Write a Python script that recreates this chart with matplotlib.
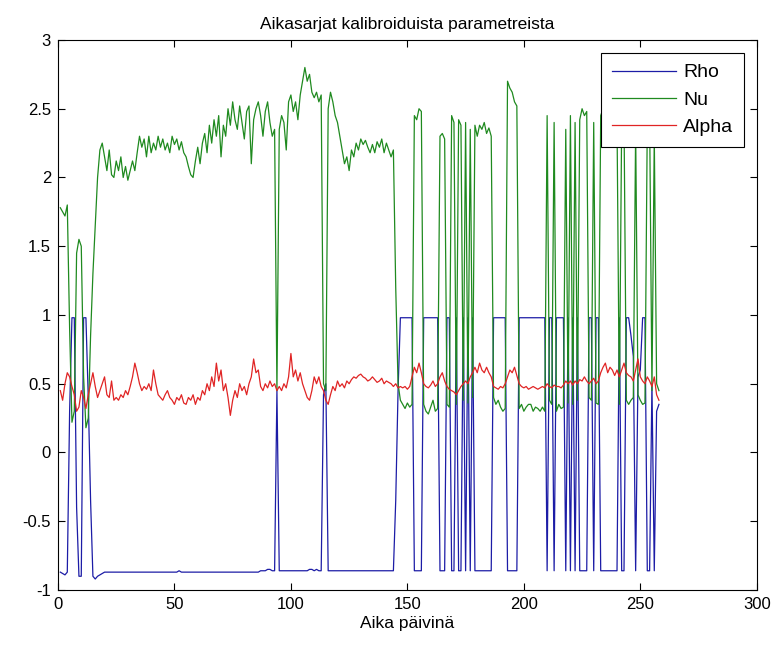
import numpy as np
import matplotlib
matplotlib.use("Agg")
import matplotlib.pyplot as plt

plt.rcParams['font.family'] = ['Liberation Sans', 'DejaVu Sans']

# Calibrated parameter series, one value per day (days 1..258)
rho = [
    -0.87, -0.88, -0.89, -0.87, 0.30, 0.98, 0.98, -0.40, -0.90, -0.90,
    0.98, 0.98, 0.40, -0.35, -0.90, -0.92, -0.90, -0.89, -0.88, -0.87,
    -0.87, -0.87, -0.87, -0.87, -0.87, -0.87, -0.87, -0.87, -0.87, -0.87,
    -0.87, -0.87, -0.87, -0.87, -0.87, -0.87, -0.87, -0.87, -0.87, -0.87,
    -0.87, -0.87, -0.87, -0.87, -0.87, -0.87, -0.87, -0.87, -0.87, -0.87,
    -0.87, -0.86, -0.87, -0.87, -0.87, -0.87, -0.87, -0.87, -0.87, -0.87,
    -0.87, -0.87, -0.87, -0.87, -0.87, -0.87, -0.87, -0.87, -0.87, -0.87,
    -0.87, -0.87, -0.87, -0.87, -0.87, -0.87, -0.87, -0.87, -0.87, -0.87,
    -0.87, -0.87, -0.87, -0.87, -0.87, -0.87, -0.86, -0.86, -0.86, -0.85,
    -0.85, -0.86, -0.86, 0.45, -0.86, -0.86, -0.86, -0.86, -0.86, -0.86,
    -0.86, -0.86, -0.86, -0.86, -0.86, -0.86, -0.86, -0.85, -0.85, -0.86,
    -0.85, -0.86, -0.86, 0.42, 0.50, -0.86, -0.86, -0.86, -0.86, -0.86,
    -0.86, -0.86, -0.86, -0.86, -0.86, -0.86, -0.86, -0.86, -0.86, -0.86,
    -0.86, -0.86, -0.86, -0.86, -0.86, -0.86, -0.86, -0.86, -0.86, -0.86,
    -0.86, -0.86, -0.86, -0.86, -0.35, 0.45, 0.98, 0.98, 0.98, 0.98,
    0.98, 0.98, -0.86, -0.86, -0.86, -0.86, 0.98, 0.98, 0.98, 0.98,
    0.98, 0.98, 0.98, -0.86, -0.86, -0.86, 0.98, 0.98, -0.86, -0.86,
    0.98, -0.86, -0.86, 0.98, -0.86, 0.98, -0.86, 0.98, -0.86, -0.86,
    -0.86, -0.86, -0.86, -0.86, -0.86, -0.86, 0.98, 0.98, 0.98, 0.98,
    0.98, 0.98, -0.86, -0.86, -0.86, -0.86, -0.86, 0.98, 0.98, 0.98,
    0.98, 0.98, 0.98, 0.98, 0.98, 0.98, 0.98, 0.98, 0.98, -0.86,
    0.98, 0.98, -0.86, 0.98, 0.98, 0.98, 0.98, -0.86, 0.98, -0.86,
    0.98, -0.86, 0.98, -0.86, -0.86, -0.86, -0.86, 0.98, 0.98, -0.86,
    0.98, 0.98, -0.86, -0.86, -0.86, -0.86, -0.86, -0.86, -0.86, -0.86,
    0.98, -0.86, -0.86, 0.98, 0.98, 0.85, 0.70, -0.86, 0.55, 0.60,
    0.98, 0.98, -0.86, -0.86, 0.50, -0.86, 0.30, 0.35,
]

nu = [
    1.78, 1.75, 1.72, 1.80, 0.90, 0.22, 0.30, 1.45, 1.55, 1.50,
    0.55, 0.18, 0.25, 0.85, 1.30, 1.65, 2.00, 2.20, 2.25, 2.15,
    2.05, 2.20, 2.02, 2.00, 2.12, 2.05, 2.15, 2.00, 2.08, 1.98,
    2.05, 2.12, 2.05, 2.18, 2.30, 2.22, 2.28, 2.15, 2.30, 2.18,
    2.25, 2.20, 2.30, 2.22, 2.28, 2.20, 2.25, 2.18, 2.30, 2.24,
    2.28, 2.20, 2.26, 2.18, 2.15, 2.08, 2.02, 2.00, 2.12, 2.22,
    2.10, 2.25, 2.32, 2.18, 2.38, 2.25, 2.42, 2.30, 2.45, 2.15,
    2.38, 2.30, 2.50, 2.38, 2.55, 2.42, 2.35, 2.52, 2.40, 2.28,
    2.48, 2.52, 2.10, 2.42, 2.50, 2.55, 2.45, 2.30, 2.48, 2.55,
    2.40, 2.30, 2.35, 0.45, 2.35, 2.45, 2.40, 2.20, 2.55, 2.60,
    2.48, 2.55, 2.42, 2.60, 2.70, 2.80, 2.70, 2.75, 2.62, 2.58,
    2.62, 2.55, 2.60, 0.50, 0.45, 2.50, 2.62, 2.55, 2.45, 2.40,
    2.30, 2.20, 2.10, 2.15, 2.05, 2.20, 2.15, 2.25, 2.20, 2.28,
    2.24, 2.27, 2.22, 2.18, 2.24, 2.18, 2.26, 2.22, 2.28, 2.18,
    2.25, 2.20, 2.15, 2.20, 1.20, 0.50, 0.38, 0.35, 0.32, 0.36,
    0.33, 0.35, 2.45, 2.42, 2.50, 2.48, 0.35, 0.30, 0.28, 0.33,
    0.38, 0.30, 0.32, 2.30, 2.32, 2.28, 0.35, 0.33, 2.45, 2.40,
    0.35, 2.42, 2.38, 0.38, 2.40, 0.36, 2.35, 0.40, 2.38, 2.30,
    2.38, 2.35, 2.40, 2.32, 2.36, 2.30, 0.40, 0.35, 0.38, 0.33,
    0.30, 0.32, 2.70, 2.65, 2.62, 2.55, 2.52, 0.32, 0.35, 0.30,
    0.33, 0.35, 0.35, 0.30, 0.33, 0.32, 0.30, 0.33, 0.30, 2.45,
    0.38, 0.35, 2.40, 0.30, 0.35, 0.32, 0.33, 2.35, 0.36, 2.45,
    0.35, 2.40, 0.38, 2.42, 2.50, 2.45, 2.48, 0.40, 0.38, 2.40,
    0.36, 0.35, 2.45, 2.50, 2.55, 2.48, 2.52, 2.45, 2.50, 2.42,
    0.35, 2.40, 2.45, 0.38, 0.35, 0.38, 0.40, 2.35, 0.42, 0.38,
    0.35, 0.36, 2.40, 2.45, 0.45, 2.30, 0.50, 0.45,
]

alpha = [
    0.45, 0.38, 0.50, 0.58, 0.55, 0.48, 0.42, 0.30, 0.33, 0.45,
    0.40, 0.32, 0.42, 0.50, 0.58, 0.48, 0.40, 0.45, 0.50, 0.55,
    0.42, 0.40, 0.52, 0.38, 0.40, 0.38, 0.42, 0.40, 0.45, 0.42,
    0.48, 0.55, 0.65, 0.58, 0.50, 0.45, 0.48, 0.46, 0.50, 0.45,
    0.60, 0.50, 0.42, 0.40, 0.38, 0.42, 0.45, 0.40, 0.38, 0.35,
    0.40, 0.38, 0.42, 0.36, 0.35, 0.40, 0.38, 0.42, 0.35, 0.40,
    0.38, 0.45, 0.42, 0.50, 0.45, 0.55, 0.48, 0.65, 0.52, 0.60,
    0.45, 0.50, 0.40, 0.27, 0.38, 0.45, 0.40, 0.50, 0.45, 0.48,
    0.42, 0.50, 0.55, 0.68, 0.58, 0.60, 0.48, 0.45, 0.50, 0.47,
    0.52, 0.48, 0.50, 0.45, 0.48, 0.45, 0.50, 0.47, 0.55, 0.72,
    0.55, 0.60, 0.52, 0.58, 0.50, 0.45, 0.40, 0.38, 0.45, 0.55,
    0.50, 0.55, 0.48, 0.45, 0.38, 0.35, 0.42, 0.48, 0.45, 0.52,
    0.48, 0.50, 0.47, 0.52, 0.50, 0.53, 0.55, 0.54, 0.56, 0.57,
    0.55, 0.54, 0.52, 0.53, 0.55, 0.53, 0.51, 0.52, 0.54, 0.50,
    0.52, 0.51, 0.50, 0.48, 0.50, 0.47, 0.48, 0.47, 0.48, 0.46,
    0.48, 0.55, 0.62, 0.58, 0.65, 0.58, 0.50, 0.48, 0.47, 0.49,
    0.52, 0.48, 0.50, 0.55, 0.58, 0.52, 0.48, 0.46, 0.45, 0.44,
    0.42, 0.45, 0.48, 0.50, 0.52, 0.50, 0.55, 0.58, 0.62, 0.58,
    0.65, 0.60, 0.58, 0.62, 0.58, 0.55, 0.48, 0.47, 0.46, 0.48,
    0.47, 0.50, 0.55, 0.60, 0.58, 0.62, 0.56, 0.50, 0.48, 0.47,
    0.48, 0.46, 0.47, 0.48, 0.47, 0.46, 0.47, 0.48, 0.47, 0.50,
    0.48, 0.47, 0.49, 0.48, 0.48, 0.47, 0.49, 0.52, 0.50, 0.52,
    0.49, 0.52, 0.50, 0.53, 0.52, 0.55, 0.52, 0.50, 0.52, 0.54,
    0.50, 0.52, 0.58, 0.62, 0.65, 0.58, 0.62, 0.60, 0.56, 0.60,
    0.55, 0.60, 0.65, 0.58, 0.56, 0.55, 0.52, 0.60, 0.68, 0.55,
    0.52, 0.50, 0.55, 0.52, 0.48, 0.55, 0.42, 0.38,
]

days = np.arange(1, len(rho) + 1)

series_names = ["Rho", "Nu", "Alpha"]
series_colors = ["#1c1ca6", "#1f8a1f", "#e02424"]

fig = plt.figure(figsize=(7.73, 6.50), dpi=100)
ax = fig.add_axes([0.075, 0.0923, 0.904, 0.8462])

for vals, name, col in zip([rho, nu, alpha], series_names, series_colors):
    ax.plot(days, vals, color=col, lw=0.9, label=name)

ax.set_xlim(0, 300)
ax.set_ylim(-1, 3)
ax.set_xticks(np.arange(0, 301, 50))
ax.set_yticks(np.arange(-1, 3.01, 0.5))
ax.set_yticklabels(["-1", "-0.5", "0", "0.5", "1", "1.5", "2", "2.5", "3"])
ax.tick_params(direction="in", top=True, right=True, length=5, width=0.8,
               labelsize=12, pad=5)
for s in ax.spines.values():
    s.set_linewidth(0.8)

ax.set_title("Aikasarjat kalibroiduista parametreista", fontsize=12.5, pad=8)
ax.set_xlabel("Aika päivinä", fontsize=12.5, labelpad=3)

leg = ax.legend(loc="upper right", bbox_to_anchor=(0.9814, 0.976),
                fontsize=14, handlelength=3.3, labelspacing=0.5,
                borderpad=0.55, handletextpad=0.35, fancybox=False,
                framealpha=1.0, edgecolor="black", borderaxespad=0)
leg.get_frame().set_linewidth(0.8)

fig.savefig("out.png", dpi=100, facecolor="white")
